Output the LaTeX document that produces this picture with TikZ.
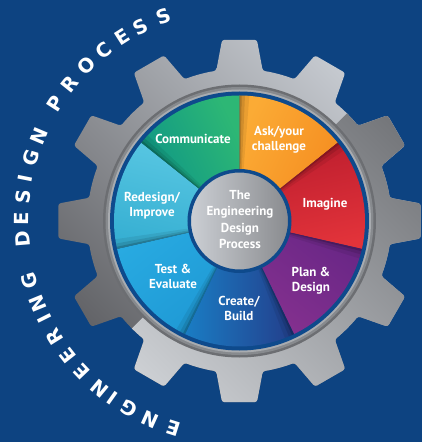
\documentclass[tikz,border=0pt]{standalone}
\usepackage{fontspec}
\setmainfont{PT Sans}
\newfontfamily\arcfont{DejaVu Sans}

% gear: 12 teeth, body radius 152, tip radius 182
\newcommand{\gearoutline}{
  (98.8:152)
  \foreach \a in {90,60,...,-240} {
    -- (\a+5.5:182) -- (\a-5.5:182) -- (\a-8.8:152)
    arc[start angle=\a-8.8, end angle=\a-21.2, radius=152]
  } -- cycle
}

% one coloured sector: #1 ccw angle, #2 cw angle, #3 ccw colour, #4 cw colour (hex)
\newcommand{\sector}[4]{
  \definecolor{secccw}{HTML}{#3}
  \definecolor{seccw}{HTML}{#4}
  \pgfmathsetmacro{\midang}{(#1+#2)/2}
  \path[top color=secccw, bottom color=seccw, shading angle=\midang]
    (0,0) -- (#1:125.5) arc[start angle=#1, end angle=#2, radius=125.5] -- cycle;
  \foreach \w/\o in {4.5/0.07, 2.5/0.10, 1.0/0.16} {
    \fill[black, opacity=\o]
      (0,0) -- (#1:125.5) arc[start angle=#1, end angle=#1-\w, radius=125.5] -- cycle;
  }
}

\begin{document}
\begin{tikzpicture}[x=1pt, y=1pt,
  seglabel/.style={text=white, font=\bfseries\fontsize{13}{15}\selectfont,
    align=center, inner sep=0pt},
  hublabel/.style={text=white, font=\bfseries\fontsize{13}{16.3}\selectfont,
    align=center, inner sep=0pt},
  arcletter/.style={text=white, font=\arcfont\bfseries\fontsize{19.5}{19.5}\selectfont,
    inner sep=0pt},
]
\definecolor{bgblue}{HTML}{0D4381}
\definecolor{ringblue}{HTML}{0E4A8C}
\definecolor{gearA}{HTML}{C6CAD0}
\definecolor{gearB}{HTML}{626367}
\definecolor{gearC}{HTML}{74767A}
\definecolor{gearD}{HTML}{CDD0D4}
\definecolor{grooveA}{HTML}{6C6E72}
\definecolor{grooveB}{HTML}{878A8E}
\definecolor{grooveC}{HTML}{A9ACB0}

% background
\fill[bgblue] (-239.5,-221) rectangle (182.5,221);
\useasboundingbox (-239.5,-221) rectangle (182.5,221);

% gear body, lit from two sides of a diagonal seam
\path[rounded corners=2.5pt, top color=gearA, bottom color=gearB, shading angle=-45] \gearoutline;
\begin{scope}
  \clip (-300,-300) -- (300,300) -- (300,-300) -- cycle;
  \path[rounded corners=2.5pt, top color=gearC, bottom color=gearD, shading angle=-45] \gearoutline;
\end{scope}

% groove around the wheel
\fill[grooveA] (0,0) circle (136.5);
\fill[grooveB] (0,0) circle (134);
\fill[grooveC] (0,0) circle (131.5);
\fill[ringblue] (0,0) circle (129.5);

% process sectors
\sector{90}{38.57}{FBAB35}{F58B1F}
\sector{38.57}{-12.86}{BC1D2E}{E2333A}
\sector{-12.86}{-64.29}{682686}{86318F}
\sector{-64.29}{-115.71}{233E8B}{1A7DC4}
\sector{-115.71}{-167.14}{1E98D4}{28AAE1}
\sector{-167.14}{-218.57}{36AFD2}{5AC8E3}
\sector{141.43}{90}{0C9487}{2DB775}

% hub
\path[draw=ringblue, line width=3.5, left color=gearA!90!white, right color=gearC!85!white]
  (0,0) circle (50.25);
\node[hublabel] (hub) at (0.5,1.5) {The\\Engineering\\Design\\Process};

% sector labels
\node[seglabel] (ask)  at (39.5,81)   {Ask/your\\challenge};
\node[seglabel] (imag) at (85.5,17)   {Imagine};
\node[seglabel] (plan) at (71.5,-60)  {Plan \&\\Design};
\node[seglabel] (crea) at (-0.5,-87.5){Create/\\Build};
\node[seglabel] (test) at (-66.5,-55) {Test \&\\Evaluate};
\node[seglabel] (rede) at (-87.5,15)  {Redesign/\\Improve};
\node[seglabel] (comm) at (-46.5,82)  {Communicate};

% title set around the wheel
\foreach \ch/\ang [count=\i] in {E/252.3, N/245.8, G/239.5, I/234.5, N/230.1, E/223.7,
    E/218.2, R/212.0, I/206.6, N/202.3, G/195.9,
    D/184.8, E/179.3, S/173.6, I/168.7, G/163.2, N/157.1,
    P/147.4, R/141.2, O/134.7, C/128.5, E/122.5, S/116.9, S/110.5} {
  \node[arcletter, rotate=\ang-90] (t\i) at (\ang:218) {\ch};
}
\end{tikzpicture}
\end{document}
